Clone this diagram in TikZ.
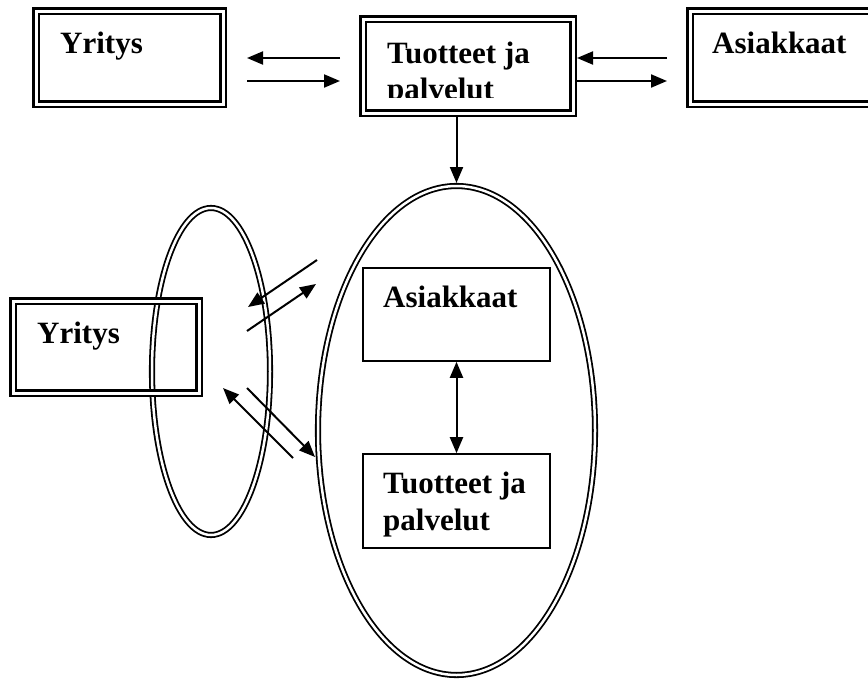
\documentclass[tikz,border=0pt]{standalone}
\usepackage{fontspec}
\setmainfont{Liberation Serif}
\usetikzlibrary{arrows.meta,shapes.geometric}
\begin{document}
\begin{tikzpicture}[x=1pt,y=-1pt,
 dbox/.style={draw,line width=2.5pt,double,double distance=3pt,rectangle,inner sep=0pt,outer sep=4pt},
 dell/.style={draw,line width=1.8pt,double,double distance=2.5pt,ellipse,inner sep=0pt,outer sep=3pt},
 sbox/.style={draw,line width=1.6pt,rectangle,inner sep=0pt,outer sep=0.8pt},
 lbl/.style={anchor=base west,inner sep=0pt,font=\fontsize{31}{37}\selectfont\bfseries},
 arr/.style={line width=2pt,-{Triangle[length=16pt,width=13pt]}},
 darr/.style={line width=2pt,{Triangle[length=16pt,width=13pt]}-{Triangle[length=16pt,width=13pt]}}]
\clip (0,0) rectangle (868,680);
\fill[white] (0,0) rectangle (868,680);
% top row
\node[dbox,minimum width=187pt,minimum height=93pt] (yt) at (129.5,57.5) {};
\node[dbox,minimum width=210pt,minimum height=94pt] (tp) at (468,66) {};
\node[dbox,minimum width=210pt,minimum height=93pt] (at) at (795,57.5) {};
\node[lbl] (ytl) at (60,53) {Yritys};
\node[lbl] (atl) at (712,53) {Asiakkaat};
\node[lbl] (tpl1) at (387,63) {Tuotteet ja};
\begin{scope}
\clip (363,70) rectangle (573,97.5);
\node[lbl] (tpl2) at (387,99) {palvelut};
\end{scope}
% bottom part
\node[dell,minimum width=118pt,minimum height=327pt] (le) at (211,371.5) {};
\node[dbox,minimum width=186pt,minimum height=92pt] (yb) at (106,347) {};
\node[lbl] (ybl) at (37,343) {Yritys};
\node[dell,minimum width=277pt,minimum height=489pt] (big) at (456.5,430.5) {};
\node[sbox,minimum width=187pt,minimum height=93pt] (ia) at (456.5,314.5) {};
\node[sbox,minimum width=187pt,minimum height=94pt] (it) at (456.5,501) {};
\node[lbl] (ial) at (383,307) {Asiakkaat};
\node[lbl] (itl1) at (383,493) {Tuotteet ja};
\node[lbl] (itl2) at (383,530) {palvelut};
% coordinates
\coordinate (c1a) at (340,58);
\coordinate (c1b) at (247,58);
\coordinate (c2a) at (247,81);
\coordinate (c2b) at (340,81);
\coordinate (c3) at (667,58);
\coordinate (c4) at (667,81);
\coordinate (d1a) at (317,260);
\coordinate (d1b) at (248,307);
\coordinate (d2a) at (247,331);
\coordinate (d2b) at (316,284);
\coordinate (d3a) at (293,458);
\coordinate (d3b) at (223,388);
\coordinate (d4a) at (247,388);
\coordinate (d4b) at (315,457);
% arrows
\draw[arr] (c1a) -- (c1b);
\draw[arr] (c2a) -- (c2b);
\draw[arr] (c3) -- (tp.east |- c3);
\draw[arr] (tp.east |- c4) -- (c4);
\draw[arr] (tp.south -| big.north) -- (big.north);
\draw[darr] (ia.south) -- (it.north);
\draw[arr] (d1a) -- (d1b);
\draw[arr] (d2a) -- (d2b);
\draw[arr] (d3a) -- (d3b);
\draw[arr] (d4a) -- (d4b);
\end{tikzpicture}
\end{document}
